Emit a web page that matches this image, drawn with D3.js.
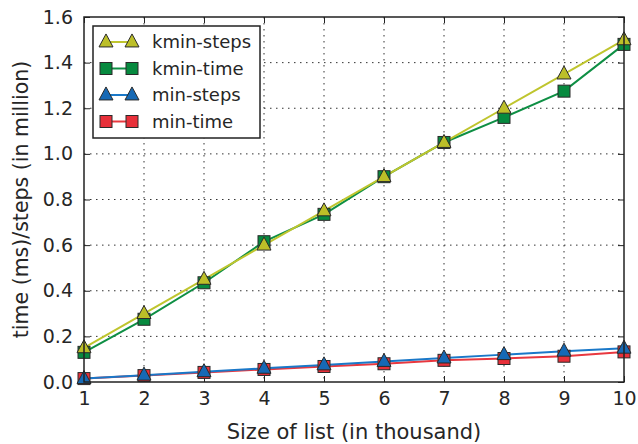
<!DOCTYPE html>
<html><head><meta charset="utf-8">
<script src="https://cdn.jsdelivr.net/npm/d3@7"></script>
<style>body{margin:0;background:#fff}svg{display:block}text{font-family:"DejaVu Sans",sans-serif;fill:#262626}</style>
</head><body><svg id="c" width="638" height="444"></svg>
<script>
const sizes = [1,2,3,4,5,6,7,8,9,10];
const kminSteps = [0.15,0.30,0.45,0.60,0.75,0.90,1.05,1.20,1.35,1.50];
const kminTime = [0.13,0.275,0.435,0.615,0.735,0.90,1.05,1.16,1.275,1.48];
const minSteps = [0.015,0.03,0.045,0.06,0.075,0.09,0.105,0.12,0.135,0.148];
const minTime = [0.015,0.028,0.042,0.055,0.068,0.08,0.095,0.103,0.113,0.132];
const xTicks = [1,2,3,4,5,6,7,8,9,10];
const yTicks = [0,0.2,0.4,0.6,0.8,1.0,1.2,1.4,1.6];
const seriesNames = ["kmin-steps","kmin-time","min-steps","min-time"];

const series = [
  {name:seriesNames[0], vals:kminSteps, color:"#bcbf28", line:"#bfc52e", shape:"tri"},
  {name:seriesNames[1], vals:kminTime, color:"#078a3f", line:"#0e8f44", shape:"sq"},
  {name:seriesNames[2], vals:minSteps, color:"#1669b5", line:"#1a78c8", shape:"tri"},
  {name:seriesNames[3], vals:minTime, color:"#e8303a", line:"#e8383f", shape:"sq"}
];

const svg = d3.select("#c");
const L=84,R=624,T=17,B=382;
const x = d3.scaleLinear().domain([1,10]).range([L,R]);
const y = d3.scaleLinear().domain([0,1.6]).range([B,T]);

// grid
const g = svg.append("g");
g.selectAll(".gx").data(xTicks.slice(1,-1)).enter().append("line")
  .attr("x1",d=>x(d)).attr("x2",d=>x(d)).attr("y1",T).attr("y2",B)
  .attr("stroke","#333").attr("stroke-width",1).attr("stroke-dasharray","1.5,4.5");
g.selectAll(".gy").data(yTicks.slice(1,-1)).enter().append("line")
  .attr("y1",d=>y(d)).attr("y2",d=>y(d)).attr("x1",L).attr("x2",R)
  .attr("stroke","#333").attr("stroke-width",1).attr("stroke-dasharray","1.5,4.5");

// axes with inward ticks
const ax = d3.axisBottom(x).tickValues(xTicks).tickSize(-6).tickPadding(10).tickFormat(d3.format("d"));
const gxA = svg.append("g").attr("transform",`translate(0,${B})`).call(ax);
const axT = d3.axisTop(x).tickValues(xTicks).tickSize(-6).tickFormat("");
const gxT = svg.append("g").attr("transform",`translate(0,${T})`).call(axT);
const ay = d3.axisLeft(y).tickValues(yTicks).tickSize(-6).tickPadding(11).tickFormat(d3.format(".1f"));
const gyA = svg.append("g").attr("transform",`translate(${L},0)`).call(ay);
const ayR = d3.axisRight(y).tickValues(yTicks).tickSize(-6).tickFormat("");
const gyR = svg.append("g").attr("transform",`translate(${R},0)`).call(ayR);
[gxA,gxT,gyA,gyR].forEach(a=>{
  a.select(".domain").remove();
  a.selectAll(".tick line").attr("stroke","#222").attr("stroke-width",1);
  a.selectAll(".tick text").style("font-size","19px").attr("fill","#262626");
});
gxA.selectAll(".tick text").attr("dy","0.71em");

// lines
const line = d3.line().x((d,i)=>x(sizes[i])).y(d=>y(d));
const drawOrder = [1,0,3,2];
drawOrder.forEach(k=>{
  const s = series[k];
  svg.append("path").datum(s.vals).attr("d",line).attr("fill","none")
    .attr("stroke",s.line).attr("stroke-width",2);
});
function marker(sel, shape, cx, cy, color){
  if(shape==="sq"){
    sel.append("rect").attr("x",cx-6).attr("y",cy-6).attr("width",12).attr("height",12)
      .attr("fill",color).attr("stroke","#2a2a2a").attr("stroke-width",1);
  } else {
    const h=13, w=14;
    sel.append("path").attr("d",`M${cx},${cy-h*0.62}L${cx+w/2},${cy+h*0.38}L${cx-w/2},${cy+h*0.38}Z`)
      .attr("fill",color).attr("stroke","#2a2a2a").attr("stroke-width",1);
  }
}
drawOrder.forEach(k=>{
  const s = series[k];
  const mg = svg.append("g");
  s.vals.forEach((v,i)=>marker(mg, s.shape, x(sizes[i]), y(v), s.color));
});

// frame
svg.append("rect").attr("x",L).attr("y",T).attr("width",R-L).attr("height",B-T)
  .attr("fill","none").attr("stroke","#222").attr("stroke-width",1.5);

// legend
const lg = svg.append("g");
lg.append("rect").attr("x",93).attr("y",26).attr("width",167).attr("height",112)
  .attr("fill","#fff").attr("stroke","#222").attr("stroke-width",1.5);
series.forEach((s,i)=>{
  const cy = 42 + i*26.5;
  lg.append("line").attr("x1",106).attr("x2",132).attr("y1",cy).attr("y2",cy)
    .attr("stroke",s.line).attr("stroke-width",2);
  marker(lg, s.shape, 106, cy, s.color);
  marker(lg, s.shape, 132, cy, s.color);
  lg.append("text").attr("x",152).attr("y",cy).attr("dy","0.35em")
    .style("font-size","18px").text(s.name);
});

// axis titles
svg.append("text").attr("x",(L+R)/2).attr("y",439).attr("text-anchor","middle")
  .style("font-size","21px").text("Size of list (in thousand)");
svg.append("text").attr("transform",`translate(28,${(T+B)/2}) rotate(-90)`).attr("text-anchor","middle")
  .style("font-size","20.5px").text("time (ms)/steps (in million)");
</script></body></html>
